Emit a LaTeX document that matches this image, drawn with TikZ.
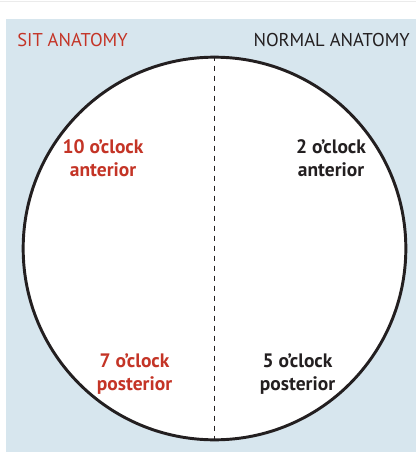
\documentclass[tikz,border=0pt]{standalone}
\usepackage{fontspec}
\setmainfont{PT Sans}
\definecolor{sitred}{RGB}{196,52,38}
\definecolor{normalgray}{RGB}{35,31,32}
\definecolor{bgblue}{RGB}{215,230,238}
\tikzset{
  header/.style={font=\fontsize{13.9}{16}\selectfont, inner sep=0pt},
  clocklabel/.style={font=\bfseries\fontsize{14.6}{17.2}\selectfont, align=center, inner sep=0pt},
  dashline/.style={normalgray, line width=0.8pt, dash pattern=on 4pt off 3.5pt},
}
\begin{document}
\begin{tikzpicture}[x=0.75pt,y=-0.75pt]
\useasboundingbox (0,0) rectangle (416,452);
\draw[black!8, line width=0.75pt] (0,2) -- (416,2);
\fill[bgblue] (6,19) rectangle (416,452);

% the clock face
\node[circle, draw=normalgray, fill=white, line width=2.2pt, minimum size=287pt, inner sep=0pt] (dial) at (214.5,248.5) {};
\draw[dashline] (dial.north) -- (dial.south);

% headings
\node[header, text=sitred, anchor=west] (sit) at (17,40) {SIT ANATOMY};
\node[header, text=normalgray, anchor=east] (normal) at (410,40) {NORMAL ANATOMY};

% positions
\node[clocklabel, text=sitred] (sitant) at (103,158.5) {10 o'clock\\anterior};
\node[clocklabel, text=normalgray] (normant) at (331,158.5) {2 o'clock\\anterior};
\node[clocklabel, text=sitred] (sitpost) at (134.5,374) {7 o'clock\\posterior};
\node[clocklabel, text=normalgray] (normpost) at (297.5,374) {5 o'clock\\posterior};
\end{tikzpicture}
\end{document}
